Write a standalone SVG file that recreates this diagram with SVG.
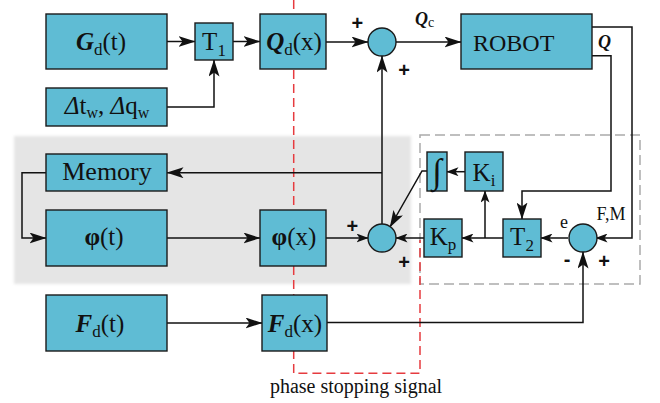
<svg xmlns="http://www.w3.org/2000/svg" width="660" height="403" viewBox="0 0 660 403">
<defs>
<style>
.box{fill:#5fbcd4;stroke:#1a1a1a;stroke-width:1.4}
.sum{fill:#5fbcd4;stroke:#1a1a1a;stroke-width:1.4}
.lbl{font-family:"Liberation Serif","DejaVu Serif",serif;font-size:25px;fill:#111}
.sm{font-family:"Liberation Serif","DejaVu Serif",serif;font-size:18px;fill:#111}
.sign{font-family:"Liberation Sans","DejaVu Sans",sans-serif;font-size:20px;font-weight:bold;fill:#111}
.bi{font-weight:bold;font-style:italic}
.con{fill:none;stroke:#111;stroke-width:1.5}
.big{marker-end:url(#ab)}
.small{marker-end:url(#as)}
</style>
<marker id="ab" markerUnits="userSpaceOnUse" markerWidth="17" markerHeight="11" viewBox="0 0 17 11" refX="16.5" refY="5.5" orient="auto"><path d="M0,0 L17,5.5 L0,11 L4,5.5 Z" fill="#111"/></marker>
<marker id="as" markerUnits="userSpaceOnUse" markerWidth="12" markerHeight="9" viewBox="0 0 12 9" refX="11.5" refY="4.5" orient="auto"><path d="M0,0 L12,4.5 L0,9 L3,4.5 Z" fill="#111"/></marker>
<filter id="soft" x="-5%" y="-5%" width="110%" height="110%"><feGaussianBlur stdDeviation="1.5"/></filter>
</defs>

<g id="background">
<rect x="14" y="136" width="397" height="148" fill="#e5e5e5" filter="url(#soft)"/>
<rect x="420" y="135" width="220" height="149" fill="none" stroke="#aaaaaa" stroke-width="1.5" stroke-dasharray="10,5"/>
<path d="M293.7,0 V373.3 H420 V240" fill="none" stroke="#e63b3f" stroke-width="1.5" stroke-dasharray="9,5"/>
</g>

<g id="connectors">
<path class="con big" d="M167,41.5 H195"/>
<path class="con big" d="M233,41.5 H260"/>
<path class="con big" d="M167,107 H214 V60"/>
<path class="con big" d="M326,42 H368"/>
<path class="con big" d="M396,42 H461"/>
<path class="con big" d="M382,224 V56"/>
<path class="con big" d="M382,172.7 H167"/>
<path class="con big" d="M46,172.7 H22 V238 H46"/>
<path class="con big" d="M167,238 H260"/>
<path class="con small" d="M326,238 H368"/>
<path class="con small" d="M424,238 H396"/>
<path class="con small" d="M503,238 H462"/>
<path class="con small" d="M485,238 V191"/>
<path class="con small" d="M465,171.7 H447"/>
<path class="con big" d="M427,171 H422 L390,227"/>
<path class="con small" d="M568,238 H541"/>
<path class="con small" d="M592,27 H632 V238 H596"/>
<path class="con big" d="M592,55.7 H611 V191 H522 V219"/>
<path class="con big" d="M167,323 H262"/>
<path class="con big" d="M327,322.5 H583 V252"/>
</g>

<g id="Gd_t">
<rect class="box" x="46" y="14" width="121" height="55"/>
<text class="lbl" x="101" y="50" text-anchor="middle"><tspan class="bi">G</tspan><tspan font-size="17" dy="5">d</tspan><tspan dy="-5">(t)</tspan></text>
</g>
<g id="T1">
<rect class="box" x="195" y="23" width="38" height="37"/>
<text class="lbl" x="214" y="50" text-anchor="middle">T<tspan font-size="17" dy="6">1</tspan></text>
</g>
<g id="Qd_x">
<rect class="box" x="260" y="14" width="66" height="55"/>
<text class="lbl" x="294" y="50" text-anchor="middle"><tspan class="bi">Q</tspan><tspan font-size="17" dy="5">d</tspan><tspan dy="-5">(x)</tspan></text>
</g>
<g id="delta">
<rect class="box" x="46" y="88" width="121" height="38"/>
<text class="lbl" x="107" y="114" text-anchor="middle" style="font-size:25px"><tspan font-style="italic">Δ</tspan>t<tspan font-size="16" dy="4">w</tspan><tspan dy="-4">, </tspan><tspan font-style="italic">Δ</tspan>q<tspan font-size="16" dy="4">w</tspan></text>
</g>
<g id="sum1">
<circle class="sum" cx="382" cy="42" r="14"/>
<text class="sign" x="357.3" y="30" text-anchor="middle">+</text>
<text class="sign" x="404" y="76.5" text-anchor="middle">+</text>
<text class="sm" x="415" y="25"><tspan class="bi">Q</tspan><tspan font-size="14" dy="2">c</tspan></text>
</g>
<g id="robot">
<rect class="box" x="461" y="14" width="131" height="55"/>
<text class="lbl" x="473" y="50.5" style="font-size:24px">ROBOT</text>
<text class="sm" x="598" y="48"><tspan class="bi">Q</tspan></text>
</g>
<g id="memory">
<rect class="box" x="46" y="154" width="121" height="37"/>
<text class="lbl" x="107" y="180" text-anchor="middle" style="font-size:26px">Memory</text>
</g>
<g id="phi_t">
<rect class="box" x="46" y="210" width="121" height="56"/>
<text class="lbl" x="104" y="245" text-anchor="middle"><tspan font-weight="bold">φ</tspan>(t)</text>
</g>
<g id="phi_x">
<rect class="box" x="260" y="210" width="66" height="56"/>
<text class="lbl" x="294" y="245" text-anchor="middle"><tspan font-weight="bold">φ</tspan>(x)</text>
</g>
<g id="sum2">
<circle class="sum" cx="382" cy="238" r="14"/>
<text class="sign" x="352.3" y="232.5" text-anchor="middle">+</text>
<text class="sign" x="404" y="268.8" text-anchor="middle">+</text>
</g>
<g id="integral">
<rect class="box" x="427" y="152" width="20" height="39"/>
<text class="lbl" x="437" y="183" text-anchor="middle" style="font-size:35px">∫</text>
</g>
<g id="Ki">
<rect class="box" x="465" y="152" width="38" height="39"/>
<text class="lbl" x="484" y="181" text-anchor="middle">K<tspan font-size="17" dy="5">i</tspan></text>
</g>
<g id="Kp">
<rect class="box" x="424" y="219" width="38" height="38"/>
<text class="lbl" x="443" y="245" text-anchor="middle">K<tspan font-size="17" dy="5">p</tspan></text>
</g>
<g id="T2">
<rect class="box" x="503" y="219" width="38" height="38"/>
<text class="lbl" x="522" y="245" text-anchor="middle">T<tspan font-size="17" dy="6">2</tspan></text>
</g>
<g id="sum3">
<circle class="sum" cx="583" cy="238" r="14"/>
<text class="sm" x="564" y="228" text-anchor="middle">e</text>
<text class="sm" x="611" y="219.5" text-anchor="middle">F,M</text>
<text class="sign" x="567" y="265.5" text-anchor="middle">-</text>
<text class="sign" x="604" y="267.5" text-anchor="middle">+</text>
</g>
<g id="Fd_t">
<rect class="box" x="46" y="295" width="121" height="56"/>
<text class="lbl" x="100" y="332" text-anchor="middle"><tspan class="bi">F</tspan><tspan font-size="17" dy="5">d</tspan><tspan dy="-5">(t)</tspan></text>
</g>
<g id="Fd_x">
<rect class="box" x="262" y="295" width="65" height="56"/>
<text class="lbl" x="295" y="332" text-anchor="middle"><tspan class="bi">F</tspan><tspan font-size="17" dy="5">d</tspan><tspan dy="-5">(x)</tspan></text>
</g>
<g id="phase_label">
<text class="sm" x="356" y="393" text-anchor="middle" style="font-size:20px">phase stopping signal</text>
</g>
</svg>
